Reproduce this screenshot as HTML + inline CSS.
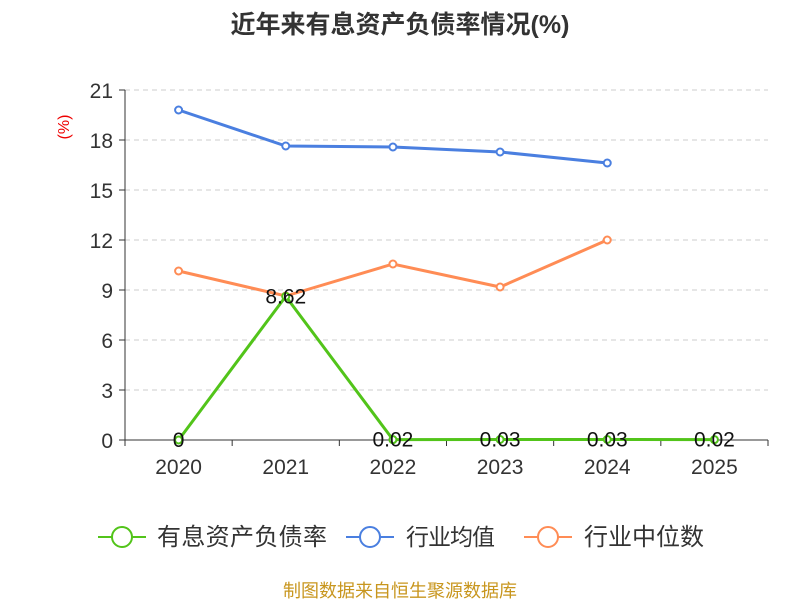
<!DOCTYPE html>
<html><head><meta charset="utf-8"><style>
body{margin:0;background:#fff;font-family:"Liberation Sans","Noto Sans CJK SC",sans-serif;}
svg text{font-family:"Liberation Sans","Noto Sans CJK SC",sans-serif;}
</style></head><body>
<svg id="chart" width="800" height="600" viewBox="0 0 800 600">
<text x="400" y="33" text-anchor="middle" font-size="25" font-weight="bold" fill="#333">近年来有息资产负债率情况(%)</text>
<text x="69" y="127" text-anchor="middle" font-size="16" fill="#e00" transform="rotate(-90 69 127)">(%)</text>
<g id="grid"></g><g id="axes"></g><g id="series"></g>
<g>
<g><line x1="98" y1="537" x2="146" y2="537" stroke="#52c41a" stroke-width="2"/><circle cx="122" cy="537" r="10" fill="#fff" stroke="#52c41a" stroke-width="2"/><text x="157" y="545" font-size="24" fill="#333" textLength="170">有息资产负债率</text></g>
<g><line x1="346" y1="537" x2="394" y2="537" stroke="#4a7fe0" stroke-width="2"/><circle cx="370" cy="537" r="10" fill="#fff" stroke="#4a7fe0" stroke-width="2"/><text x="406" y="545" font-size="23" fill="#333" textLength="89">行业均值</text></g>
<g><line x1="524" y1="537" x2="572" y2="537" stroke="#ff8c55" stroke-width="2"/><circle cx="548" cy="537" r="10" fill="#fff" stroke="#ff8c55" stroke-width="2"/><text x="584" y="545" font-size="24" fill="#333" textLength="120">行业中位数</text></g>
</g>
<text x="400" y="597" text-anchor="middle" font-size="18" fill="#c8961e">制图数据来自恒生聚源数据库</text>
</svg>
<script>
const categories=["2020","2021","2022","2023","2024","2025"];
const companyValues=[0,8.62,0.02,0.03,0.03,0.02];
const companyLabels=["0","8.62","0.02","0.03","0.03","0.02"];
const avgValues=[19.8,17.64,17.58,17.28,16.62];
const medianValues=[10.14,8.64,10.56,9.18,12.0];
const yTicks=[0,3,6,9,12,15,18,21];
const NS="http://www.w3.org/2000/svg";
const x0=125,x1=768,yBase=440,yTop=90,yMax=21;
const band=(x1-x0)/categories.length;
const xs=i=>x0+band*(i+0.5);
const ys=v=>yBase-(v/yMax)*(yBase-yTop);
function mk(tag,attrs,parent){const e=document.createElementNS(NS,tag);for(const k in attrs)e.setAttribute(k,attrs[k]);parent.appendChild(e);return e;}
const grid=document.getElementById('grid'),axes=document.getElementById('axes'),ser=document.getElementById('series');
yTicks.forEach(t=>{
 if(t>0){const l=mk('line',{x1:x0,x2:x1,y1:ys(t),y2:ys(t),stroke:'#ccc','stroke-dasharray':'5,4'},grid);
 
 }
 const tk=mk('line',{x1:x0-6,x2:x0,y1:ys(t),y2:ys(t),stroke:'#333'},axes);
 
 
 const tx=mk('text',{x:x0-12,y:ys(t)+8,'text-anchor':'end','font-size':21,fill:'#333'},axes);tx.textContent=t;
 
 
});
const ya=mk('line',{x1:x0,x2:x0,y1:yTop,y2:yBase,stroke:'#333'},axes);


const xa=mk('line',{x1:x0,x2:x1,y1:yBase,y2:yBase,stroke:'#333'},axes);


for(let i=0;i<=categories.length;i++){const t=mk('line',{x1:x0+band*i,x2:x0+band*i,y1:yBase,y2:yBase+6,stroke:'#333'},axes);
 
 }
categories.forEach((c,i)=>{const t=mk('text',{x:xs(i),y:yBase+34,'text-anchor':'middle','font-size':21,fill:'#333'},axes);t.textContent=c;
 
 });
function series(vals,color,name){
 const p=mk('polyline',{points:vals.map((v,i)=>xs(i)+','+ys(v)).join(' '),fill:'none',stroke:color,'stroke-width':3},ser);
 
 
 vals.forEach((v,i)=>{const c=mk('circle',{cx:xs(i),cy:ys(v),r:3.5,fill:'#fff',stroke:color,'stroke-width':2},ser);
  
  });
}
series(avgValues,'#4a7fe0','industry-avg');
series(medianValues,'#ff8c55','industry-median');
series(companyValues,'#52c41a','company');
companyValues.forEach((v,i)=>{const t=mk('text',{x:xs(i),y:ys(v)+7,'text-anchor':'middle','font-size':21,fill:'#111'},ser);t.textContent=companyLabels[i];
 
 });
</script>
</body></html>
